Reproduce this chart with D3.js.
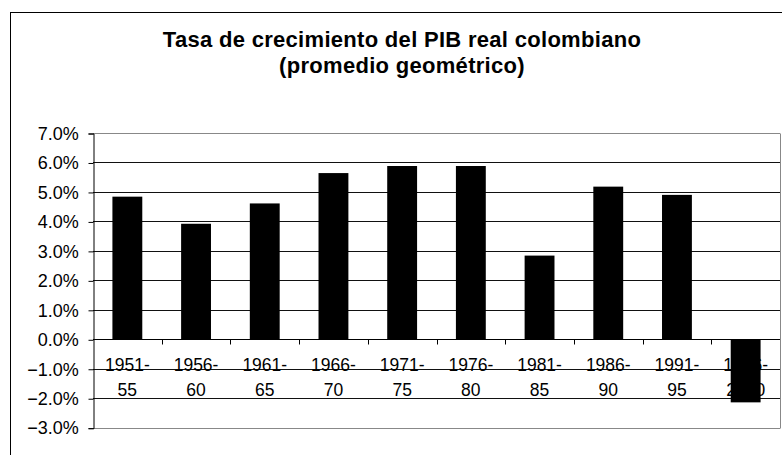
<!DOCTYPE html>
<html lang="en">
<head>
<meta charset="UTF-8">
<title>PIB</title>
<script src="https://cdn.jsdelivr.net/npm/d3@7"></script>
<style>
  body { margin: 0; background: #fff; }
  text { font-family: Arial, "Liberation Sans", sans-serif; fill: #000; }
</style>
</head>
<body>
<script>

var w = 782;
var h = 455;

// data
var periods = ["1951-|55", "1956-|60", "1961-|65", "1966-|70", "1971-|75",
               "1976-|80", "1981-|85", "1986-|90", "1991-|95", "1996-|2000"];
var growth = [0.0484, 0.0392, 0.0461, 0.0564, 0.0588,
              0.0588, 0.0284, 0.0518, 0.0490, -0.0214];
var yTicks = [-0.03, -0.02, -0.01, 0, 0.01, 0.02, 0.03, 0.04, 0.05, 0.06, 0.07];
var titleLines = ["Tasa de crecimiento del PIB real colombiano", "(promedio geométrico)"];

var plot = {left: 93, right: 780, top: 133, bottom: 427.7};

var svg = d3.select("body")
    .append("svg")
    .attr("width", w)
    .attr("height", h);

// chart area border
svg.append("rect")
    .attr("x", 10.5).attr("y", 12.5)
    .attr("width", 800).attr("height", 460)
    .attr("fill", "white")
    .attr("stroke", "#000");

var x = d3.scaleBand()
    .domain(periods)
    .range([plot.left, plot.right])
    .paddingInner(0)
    .paddingOuter(0);

var y = d3.scaleLinear()
    .domain([-0.03, 0.07])
    .range([plot.bottom, plot.top]);

// title
svg.append("g")
    .selectAll("text")
    .data(titleLines)
    .enter()
    .append("text")
    .attr("x", 402)
    .attr("y", function(d, i) { return 46.5 + i * 26.5; })
    .attr("text-anchor", "middle")
    .attr("font-size", "22px")
    .attr("font-weight", "bold")
    .attr("letter-spacing", "0.3px")
    .text(function(d) { return d; });

// gridlines
svg.append("g")
    .selectAll("line")
    .data(yTicks)
    .enter()
    .append("line")
    .attr("x1", plot.left)
    .attr("x2", plot.right)
    .attr("y1", function(d) { return Math.round(y(d)) + 0.5; })
    .attr("y2", function(d) { return Math.round(y(d)) + 0.5; })
    .attr("stroke", function(d) { return (d == 0.07 || d == -0.03) ? "#888" : "#111"; })
    .attr("stroke-width", 1);

// plot border right
svg.append("line")
    .attr("x1", plot.right + 0.5).attr("x2", plot.right + 0.5)
    .attr("y1", Math.round(y(0.07)) + 0.5).attr("y2", Math.round(y(-0.03)) + 0.5)
    .attr("stroke", "#888");

// y axis
var yAxis = d3.axisLeft(y)
    .tickValues(yTicks)
    .tickFormat(d3.format(".1%"))
    .tickSize(5)
    .tickPadding(9.7);

svg.append("g")
    .attr("transform", "translate(" + (plot.left + 0.5) + ",0.5)")
    .call(yAxis)
    .call(function(g) {
        g.select(".domain").attr("stroke", "#000");
        g.selectAll(".tick line").attr("stroke", "#000");
        g.selectAll(".tick text")
            .attr("font-size", "18px")
            .attr("font-family", "Arial, 'Liberation Sans', sans-serif")
            .attr("fill", "#000");
    });

// category labels (two lines each)
var labels = svg.append("g")
    .selectAll("text")
    .data(periods)
    .enter()
    .append("text")
    .attr("text-anchor", "middle")
    .attr("font-size", "17.5px")
    .attr("transform", function(d) { return "translate(" + (x(d) + x.bandwidth() / 2) + ",0)"; });

labels.selectAll("tspan")
    .data(function(d) { return d.split("|"); })
    .enter()
    .append("tspan")
    .attr("x", 0)
    .attr("y", function(d, i) { return 371 + i * 25; })
    .text(function(d) { return d; });

// bars
var barW = x.bandwidth() / 2.3;
svg.append("g")
    .selectAll("rect")
    .data(growth)
    .enter()
    .append("rect")
    .attr("x", function(d, i) { return x(periods[i]) + (x.bandwidth() - barW) / 2; })
    .attr("y", function(d) { return y(Math.max(d, 0)); })
    .attr("width", barW)
    .attr("height", function(d) { return Math.abs(y(d) - y(0)); })
    .attr("fill", "#000");

// category axis on zero line
var xAxis = d3.axisBottom(x)
    .tickSize(5)
    .tickFormat("");

svg.append("g")
    .attr("transform", "translate(0," + (Math.round(y(0)) + 0.5) + ")")
    .call(xAxis)
    .call(function(g) {
        g.selectAll(".tick").remove();
        g.select(".domain").attr("stroke", "#000").attr("d", "M" + plot.left + ",0H" + plot.right);
    });

// ticks between categories
svg.append("g")
    .selectAll("line")
    .data(periods.slice(1))
    .enter()
    .append("line")
    .attr("x1", function(d) { return Math.round(x(d)) + 0.5; })
    .attr("x2", function(d) { return Math.round(x(d)) + 0.5; })
    .attr("y1", Math.round(y(0)) + 0.5)
    .attr("y2", Math.round(y(0)) + 5.5)
    .attr("stroke", "#000");

</script>
</body>
</html>
